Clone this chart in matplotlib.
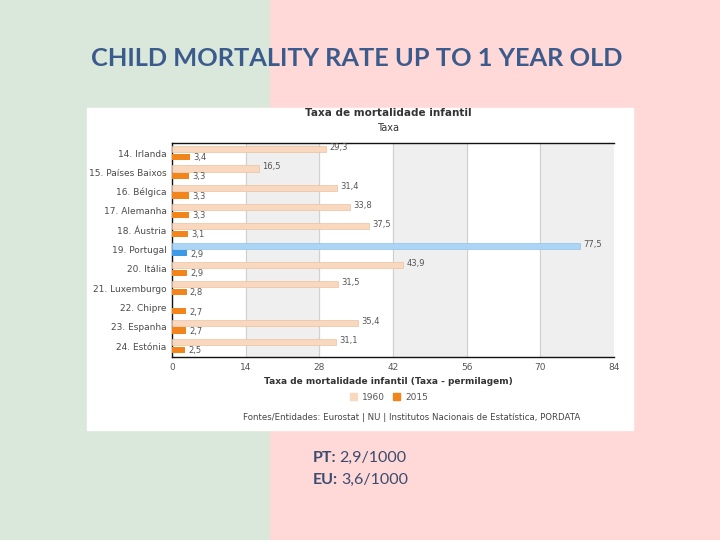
import numpy as np
import matplotlib.pyplot as plt
from matplotlib.patches import Rectangle, Patch

countries = ["14. Irlanda", "15. Países Baixos", "16. Bélgica", "17. Alemanha",
             "18. Áustria", "19. Portugal", "20. Itália", "21. Luxemburgo",
             "22. Chipre", "23. Espanha", "24. Estónia"]
rate_1960 = [29.3, 16.5, 31.4, 33.8, 37.5, 77.5, 43.9, 31.5, np.nan, 35.4, 31.1]
rate_2015 = [3.4, 3.3, 3.3, 3.3, 3.1, 2.9, 2.9, 2.8, 2.7, 2.7, 2.5]
xticks = [0, 14, 28, 42, 56, 70, 84]
highlight = "19. Portugal"

fig = plt.figure(figsize=(7.2, 5.4), dpi=100)

# slide background: green left, pink right
fig.patches.append(Rectangle((0, 0), 270 / 720, 1, transform=fig.transFigure,
                             color="#d9e8da", zorder=-3))
fig.patches.append(Rectangle((270 / 720, 0), 1 - 270 / 720, 1, transform=fig.transFigure,
                             color="#ffd8d8", zorder=-3))
# white box of the embedded chart
fig.patches.append(Rectangle((87 / 720, 110 / 540), 546 / 720, 322 / 540,
                             transform=fig.transFigure, color="white", zorder=-2))

fig.text(357 / 720, 1 - 59 / 540, "CHILD MORTALITY RATE UP TO 1 YEAR OLD",
         ha="center", va="center", fontsize=18.3, fontweight="bold",
         color="#3b5b8c", family="Lato")

ax = fig.add_axes([172 / 720, 1 - 357 / 540, (614 - 172) / 720, (357 - 143) / 540])
ax.set_facecolor("white")

y = np.arange(len(countries))
c60 = ["#acd5f5" if c == highlight else "#fad8be" for c in countries]
c15 = ["#3d9be6" if c == highlight else "#f2841c" for c in countries]
e60 = ["#8fc2ea" if c == highlight else "#e8c2a4" for c in countries]

ax.barh(y - 0.2, rate_1960, height=0.32, color=c60, edgecolor=e60, linewidth=0.5, zorder=3)
ax.barh(y + 0.2, rate_2015, height=0.32, color=c15, zorder=3)

for i in range(len(countries)):
    if not np.isnan(rate_1960[i]):
        ax.text(rate_1960[i] + 0.6, y[i] - 0.28, f"{rate_1960[i]:.1f}".replace(".", ","),
                va="center", fontsize=6, color="#555555", zorder=4)
    ax.text(rate_2015[i] + 0.6, y[i] + 0.24, f"{rate_2015[i]:.1f}".replace(".", ","),
            va="center", fontsize=6, color="#555555", zorder=4)

# alternating bands and grid
for k in range(len(xticks) - 1):
    if k % 2 == 1:
        ax.axvspan(xticks[k], xticks[k + 1], color="#efefef", zorder=0)
for t in xticks[1:-1]:
    ax.axvline(t, color="#d0d0d0", linewidth=0.8, zorder=1)

ax.set_xlim(0, 84)
ax.set_ylim(10.57, -0.52)
ax.set_xticks(xticks)
ax.set_xticklabels([str(t) for t in xticks], fontsize=6.5, color="#555555")
ax.set_yticks(y)
ax.set_yticklabels(countries, fontsize=6.5, color="#4a4a4a")
ax.tick_params(length=0, pad=4)
for s in ["top", "bottom", "left"]:
    ax.spines[s].set_color("#111111")
    ax.spines[s].set_linewidth(1)
ax.spines["right"].set_visible(False)

fig.text(388 / 720, 1 - 113 / 540, "Taxa de mortalidade infantil", ha="center", va="center",
         fontsize=7.5, fontweight="bold", color="#333333")
fig.text(388 / 720, 1 - 128 / 540, "Taxa", ha="center", va="center",
         fontsize=7, color="#333333")
fig.text(388 / 720, 1 - 381 / 540, "Taxa de mortalidade infantil (Taxa - permilagem)",
         ha="center", va="center", fontsize=6.5, fontweight="bold", color="#333333")

handles = [Patch(color="#fad8be", label="1960"), Patch(color="#f2841c", label="2015")]
fig.legend(handles=handles, loc="center", bbox_to_anchor=(389 / 720, 1 - 397 / 540),
           ncol=2, frameon=False, fontsize=6.5, handlelength=0.8, handleheight=0.8,
           columnspacing=0.8, handletextpad=0.6, labelcolor="#555555")

fig.text(412 / 720, 1 - 417 / 540,
         "Fontes/Entidades: Eurostat | NU | Institutos Nacionais de Estatística, PORDATA",
         ha="center", va="center", fontsize=6.2, color="#444444")

fig.text(313 / 720, 1 - 458 / 540, "PT:", ha="left", va="center", fontsize=11.5,
         fontweight="bold", color="#3b4b6e", family="Lato")
fig.text(339 / 720, 1 - 458 / 540, "2,9/1000", ha="left", va="center", fontsize=11.5,
         color="#3b4b6e", family="Lato")
fig.text(313 / 720, 1 - 480 / 540, "EU:", ha="left", va="center", fontsize=11.5,
         fontweight="bold", color="#3b4b6e", family="Lato")
fig.text(341 / 720, 1 - 480 / 540, "3,6/1000", ha="left", va="center", fontsize=11.5,
         color="#3b4b6e", family="Lato")

fig.savefig("out.png", dpi=100)
